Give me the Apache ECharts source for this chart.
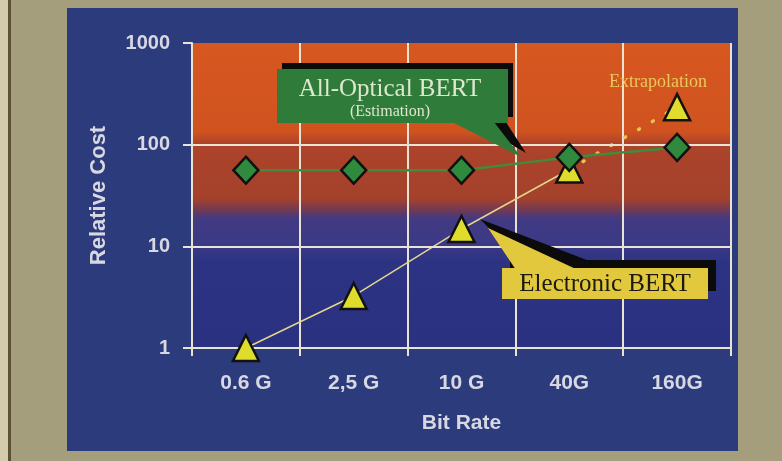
<!DOCTYPE html>
<html><head><meta charset="utf-8">
<script src="https://cdn.jsdelivr.net/npm/echarts@6/dist/echarts.min.js"></script>
<style>html,body{margin:0;padding:0;background:#a59e7c}#c{width:782px;height:461px}</style>
</head><body><div id="c"></div>
<script>
// ---- data ----
const categories = ['0.6 G', '2,5 G', '10 G', '40G', '160G'];
const electronicBert = [1, 3.25, 14.8, 57, null];
const extrapolation = [null, null, null, 57, 234];
const allOpticalBert = [56, 56, 56, 75, 94];
const gridLineValues = [10, 100];
const yAxisName = 'Relative Cost';
const xAxisName = 'Bit Rate';

const dash = v => (v == null ? '-' : v);
const chart = echarts.init(document.getElementById('c'), null, {renderer: 'canvas'});

const labelColor = '#d8d8e2';
const lineWhite = '#e9e3d6';

const option = {
  animation: false,
  backgroundColor: '#a59e7c',
  grid: {
    left: 192, right: 51, top: 43, bottom: 113,
    show: true, borderWidth: 0,
    backgroundColor: new echarts.graphic.LinearGradient(0, 0, 0, 1, [
      {offset: 0, color: '#d7571f'},
      {offset: 0.29, color: '#d0531f'},
      {offset: 0.33, color: '#ad432a'},
      {offset: 0.51, color: '#a4412c'},
      {offset: 0.55, color: '#6e3956'},
      {offset: 0.575, color: '#423a82'},
      {offset: 0.66, color: '#3b3986'},
      {offset: 0.72, color: '#2c3383'},
      {offset: 1, color: '#2a3180'}
    ])
  },
  xAxis: {
    type: 'category',
    data: categories,
    boundaryGap: true,
    axisLine: {show: true, lineStyle: {color: lineWhite, width: 2}},
    axisTick: {show: true, length: 8, lineStyle: {color: lineWhite, width: 2}},
    splitLine: {show: true, lineStyle: {color: lineWhite, width: 2}},
    axisLabel: {color: labelColor, fontFamily: 'Liberation Sans, Arial', fontWeight: 'bold', fontSize: 21, margin: 25},
    name: xAxisName,
    nameLocation: 'middle',
    nameGap: 65,
    nameTextStyle: {color: labelColor, fontFamily: 'Liberation Sans, Arial', fontWeight: 'bold', fontSize: 21}
  },
  yAxis: {
    type: 'log',
    logBase: 10,
    min: 1, max: 1000,
    axisLine: {show: true, lineStyle: {color: lineWhite, width: 2}},
    axisTick: {show: true, length: 9, lineStyle: {color: lineWhite, width: 2}},
    splitLine: {show: false},
    axisLabel: {color: labelColor, fontFamily: 'Liberation Sans, Arial', fontWeight: 'bold', fontSize: 20, margin: 22,
      formatter: v => String(Math.round(v))},
    name: yAxisName,
    nameLocation: 'middle',
    nameGap: 82,
    nameTextStyle: {color: labelColor, fontFamily: 'Liberation Sans, Arial', fontWeight: 'bold', fontSize: 22}
  },
  series: [
    {
      type: 'line', silent: true, z: 1,
      data: [],
      markLine: {
        silent: true, symbol: 'none', animation: false,
        label: {show: false},
        lineStyle: {color: lineWhite, width: 2, type: 'solid'},
        data: gridLineValues.map(v => ({yAxis: v}))
      }
    },
    {
      name: 'Extrapolation', type: 'line', z: 3,
      data: extrapolation.map((v, i) => v == null ? '-' :
        (i === extrapolation.length - 1 ? {value: v, symbol: 'triangle'} : {value: v, symbol: 'none'})),
      showSymbol: true, symbol: 'triangle', symbolSize: 26,
      itemStyle: {color: '#e0dc2c', borderColor: '#111', borderWidth: 2.5},
      lineStyle: {color: '#e9c34c', width: 3.5, type: [1, 15], cap: 'round'}
    },
    {
      name: 'Electronic BERT', type: 'line', z: 4,
      data: electronicBert.map(dash),
      symbol: 'triangle', symbolSize: 26,
      itemStyle: {color: '#e0dc2c', borderColor: '#111', borderWidth: 2.5},
      lineStyle: {color: '#e3d58e', width: 1.5}
    },
    {
      name: 'All-Optical BERT', type: 'line', z: 5,
      data: allOpticalBert.map(dash),
      symbol: 'diamond', symbolSize: [25, 27],
      itemStyle: {color: '#2f8a3e', borderColor: '#111', borderWidth: 2.5},
      lineStyle: {color: '#3f8c3c', width: 2.5}
    }
  ],
  graphic: [
    // outer panel
    {type: 'rect', z: -10, silent: true, shape: {x: 0, y: 0, width: 8, height: 461}, style: {fill: '#d3cbab'}},
    {type: 'rect', z: -10, silent: true, shape: {x: 8, y: 0, width: 3, height: 461}, style: {fill: '#5a5236'}},
    {type: 'rect', z: -10, silent: true, shape: {x: 67, y: 8, width: 671, height: 443}, style: {fill: '#2c3b7b'}},
    // All-Optical callout
    {type: 'rect', z: 100, silent: true, shape: {x: 282, y: 63, width: 231, height: 54}, style: {fill: '#0b0b0b'}},
    {type: 'polygon', z: 100, silent: true, shape: {points: [[462, 116], [502, 116], [526, 153]]}, style: {fill: '#0b0b0b'}},
    {type: 'rect', z: 101, silent: true, shape: {x: 277, y: 69, width: 231, height: 54}, style: {fill: '#2e7b3a'}},
    {type: 'polygon', z: 101, silent: true, shape: {points: [[452, 122], [494, 122], [521, 157]]}, style: {fill: '#2e7b3a'}},
    {type: 'text', z: 102, silent: true, style: {x: 390, y: 89, text: 'All-Optical BERT', fill: '#dfe7cf', font: '25px "Liberation Serif", "Times New Roman", serif', align: 'center', verticalAlign: 'middle'}},
    {type: 'text', z: 102, silent: true, style: {x: 390, y: 112, text: '(Estimation)', fill: '#dfe7cf', font: '16px "Liberation Serif", "Times New Roman", serif', align: 'center', verticalAlign: 'middle'}},
    // Electronic callout
    {type: 'rect', z: 100, silent: true, shape: {x: 510, y: 260, width: 206, height: 31}, style: {fill: '#0b0b0b'}},
    {type: 'polygon', z: 100, silent: true, shape: {points: [[480, 219], [522, 262], [592, 262]]}, style: {fill: '#0b0b0b'}},
    {type: 'rect', z: 101, silent: true, shape: {x: 502, y: 268, width: 206, height: 31}, style: {fill: '#e2c83c'}},
    {type: 'polygon', z: 101, silent: true, shape: {points: [[488, 228], [516, 270], [578, 270]]}, style: {fill: '#e2c83c'}},
    {type: 'text', z: 102, silent: true, style: {x: 605, y: 284, text: 'Electronic BERT', fill: '#1c1a10', font: '25px "Liberation Serif", "Times New Roman", serif', align: 'center', verticalAlign: 'middle'}},
    // Extrapolation label
    {type: 'text', z: 102, silent: true, style: {x: 658, y: 82, text: 'Extrapolation', fill: '#e9c85c', font: '18px "Liberation Serif", "Times New Roman", serif', align: 'center', verticalAlign: 'middle'}}
  ]
};
chart.setOption(option);
</script>
</body></html>
